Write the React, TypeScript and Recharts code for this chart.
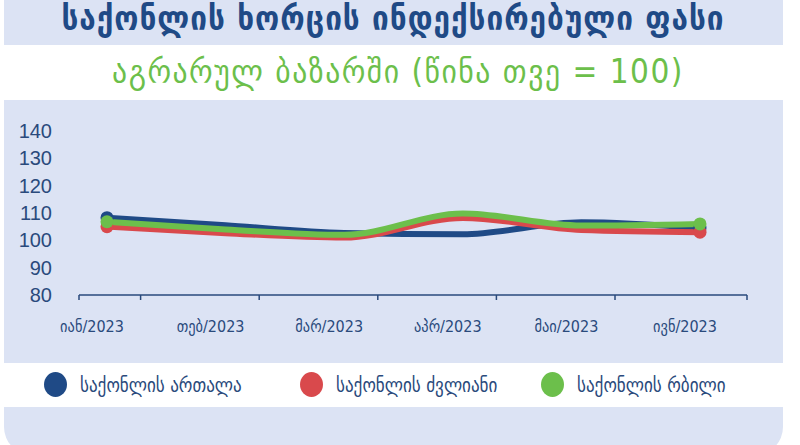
import { Line, LineChart, XAxis, YAxis } from "recharts";

const MONTHS = ["იან/2023", "თებ/2023", "მარ/2023", "აპრ/2023", "მაი/2023", "ივნ/2023"];
const ARTALA = [108.3, 105.5, 102.7, 102.2, 106.6, 104.5];
const KVLIANI = [105.0, 102.6, 101.0, 108.2, 103.8, 103.0];
const RBILI = [106.8, 104.0, 102.0, 109.8, 105.4, 106.0];
const Y_TICKS = [80, 90, 100, 110, 120, 130, 140];

const TITLE = "საქონლის ხორცის ინდექსირებული ფასი";
const SUBTITLE = "აგრარულ ბაზარში (წინა თვე = 100)";

const NAVY = "#1f4a86";
const RED = "#d9494c";
const GREEN = "#6cbf4b";
const PANEL = "#dce3f4";
const INK = "#2a4a7c";
const GEO = "'DejaVu Sans Condensed', 'DejaVu Sans', sans-serif";

const SERIES = [
  { key: "artala", name: "საქონლის ართალა", color: NAVY },
  { key: "kvliani", name: "საქონლის ძვლიანი", color: RED },
  { key: "rbili", name: "საქონლის რბილი", color: GREEN },
];

const data = MONTHS.map((m, i) => ({
  month: m,
  artala: ARTALA[i],
  kvliani: KVLIANI[i],
  rbili: RBILI[i],
}));

// dots only on the two ends of each line
function EndDot(props: any) {
  const { cx, cy, index, stroke } = props;
  if (index !== 0 && index !== MONTHS.length - 1) return <g key={index} />;
  return <circle key={index} cx={cx} cy={cy} r={6.5} fill={stroke} />;
}

function MonthTick(props: any) {
  const { x, y, payload, index } = props;
  const last = index === MONTHS.length - 1;
  const tx = x - (index === 0 ? 28 : 85);
  return (
    <g>
      <line x1={tx} x2={tx} y1={y} y2={y + 5} stroke={INK} strokeWidth={1.5} />
      {last && <line x1={x + 47} x2={x + 47} y1={y} y2={y + 5} stroke={INK} strokeWidth={1.5} />}
      <text x={x - 15} y={y + 37} textAnchor="middle" fill={INK} fontSize={16} fontFamily={GEO}>
        {payload.value}
      </text>
    </g>
  );
}

function LegendRow() {
  return (
    <div style={{ position: "absolute", left: 0, top: 363, width: 800, height: 44 }}>
      {SERIES.map((s, i) => (
        <div
          key={s.key}
          style={{
            position: "absolute",
            left: [44, 300, 541][i],
            top: 9,
            display: "flex",
            alignItems: "center",
          }}
        >
          <span
            style={{
              width: 23,
              height: 25,
              borderRadius: "50%",
              background: s.color,
              display: "inline-block",
              marginRight: 13,
            }}
          />
          <span style={{ color: INK, fontSize: 19, fontFamily: GEO }}>{s.name}</span>
        </div>
      ))}
    </div>
  );
}

export default function App() {
  return (
    <div
      style={{
        position: "absolute",
        left: 0,
        top: 0,
        width: 800,
        height: 445,
        background: "#fff",
        overflow: "hidden",
      }}
    >
      <div style={{ position: "absolute", left: 4, top: 0, width: 779, height: 45, background: PANEL }} />
      <div
        style={{
          position: "absolute",
          left: 0,
          width: 786,
          top: 1,
          textAlign: "center",
          color: NAVY,
          fontFamily: GEO,
          fontWeight: 700,
          fontSize: 33,
          lineHeight: "36px",
          letterSpacing: 1,
          whiteSpace: "nowrap",
        }}
      >
        {TITLE}
      </div>
      <div
        style={{
          position: "absolute",
          left: 0,
          width: 796,
          top: 52,
          textAlign: "center",
          color: GREEN,
          fontFamily: GEO,
          fontSize: 33,
          letterSpacing: 1.5,
          whiteSpace: "nowrap",
        }}
      >
        {SUBTITLE}
      </div>
      <div style={{ position: "absolute", left: 4, top: 100, width: 779, height: 263, background: PANEL }} />
      <div
        style={{
          position: "absolute",
          left: 4,
          top: 407,
          width: 779,
          height: 48,
          background: PANEL,
          borderRadius: "0 0 28px 28px",
        }}
      />
      <div style={{ position: "absolute", left: 0, top: 0 }}>
        <LineChart width={800} height={363} data={data} margin={{ top: 131, right: 53, bottom: 28, left: 0 }}>
          <XAxis
            dataKey="month"
            padding={{ left: 28, right: 47 }}
            axisLine={{ stroke: INK, strokeWidth: 1.5 }}
            tickLine={false}
            tickSize={0}
            tickMargin={0}
            height={40}
            interval={0}
            tick={<MonthTick />}
          />
          <YAxis
            domain={[80, 140]}
            ticks={Y_TICKS}
            interval={0}
            width={79}
            axisLine={false}
            tickLine={false}
            tickMargin={21}
            tick={{ fill: INK, fontSize: 20, fontFamily: "'Liberation Sans', Arial, sans-serif" }}
          />
          {SERIES.map((s) => (
            <Line
              key={s.key}
              type="monotone"
              dataKey={s.key}
              name={s.name}
              stroke={s.color}
              strokeWidth={6}
              dot={<EndDot />}
              activeDot={false}
              isAnimationActive={false}
            />
          ))}
        </LineChart>
      </div>
      <LegendRow />
    </div>
  );
}
